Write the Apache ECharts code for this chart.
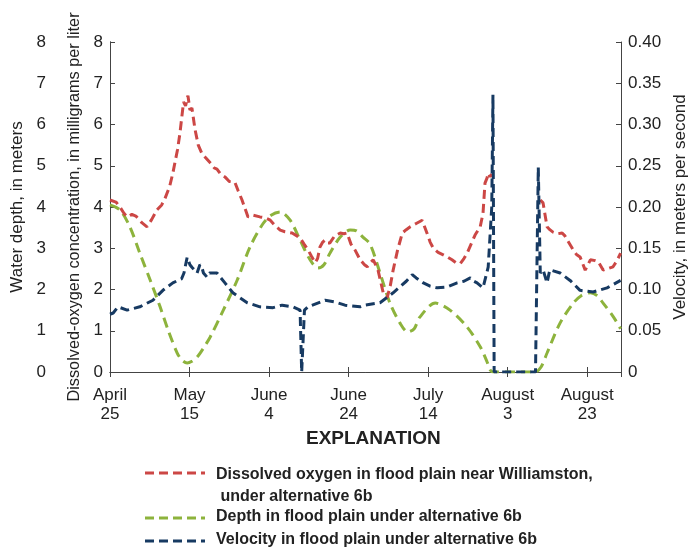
<!DOCTYPE html>
<html>
<head>
<meta charset="utf-8">
<script src="https://cdn.jsdelivr.net/npm/echarts@6/dist/echarts.min.js"></script>
<style>
html,body{margin:0;padding:0;background:#fff;}
#chart{width:697px;height:554px;}
</style>
</head>
<body>
<div id="chart"></div>
<script>
// Days since April 25
const tickMonths = ['April','May','June','June','July','August','August'];
const tickDays = ['25','15','4','24','14','3','23'];
const velTickLabels = ['0','0.05','0.10','0.15','0.20','0.25','0.30','0.35','0.40'];

// Dissolved oxygen (mg/L)
const doDays = [0,1.5,2.5,3.5,4.3,5.5,6.5,8,9.3,10.5,11.8,13,13.8,15,15.8,17,17.6,18.2,18.5,19,19.6,20.1,20.6,21.4,22.2,23.1,24,25.2,26.2,26.9,27.8,28.9,30,31.4,32.2,33.2,34.7,36,37.7,39,40.3,41.5,42.8,44,45.8,47,47.8,48.8,49.8,50.7,51.6,52.2,52.8,53.5,54.1,54.7,55.3,56.5,57.9,58.8,59.6,60.6,61.6,62.9,64,64.7,65.5,66.2,66.8,67.4,68.7,69.7,70.5,71.2,72.3,73.5,74.5,75.5,77,78.5,79.7,80.5,81.3,82.5,83.8,85,86,87,88.1,89,89.8,90.8,91.8,93.1,93.8,94.3,94.8,95.1,95.6,96,
  96.5,
  108.2,108.9,109.9,110.6,111.4,112.5,113.7,114.4,115,116.5,117.3,118.2,119.5,120.2,120.8,122,122.8,124,125,126.5,127.5,128.4];
const doValues = [4.17,4.12,4.0,3.85,3.76,3.82,3.78,3.62,3.52,3.7,3.93,4.05,4.2,4.5,4.82,5.4,5.8,6.3,6.55,6.45,6.7,6.35,6.4,5.87,5.5,5.3,5.2,5.07,4.95,4.92,4.8,4.73,4.62,4.6,4.4,4.17,3.76,3.8,3.76,3.74,3.68,3.55,3.44,3.4,3.37,3.3,3.25,3.1,2.96,2.8,2.65,2.75,3.03,3.15,3.2,3.13,3.13,3.3,3.37,3.35,3.37,3.1,2.96,2.72,2.6,2.55,2.65,2.72,2.6,2.47,1.92,1.8,2.1,2.47,2.95,3.37,3.45,3.52,3.6,3.68,3.37,3.15,3.0,2.9,2.84,2.78,2.72,2.65,2.63,2.75,2.88,3.1,3.32,3.52,3.85,4.58,4.7,4.82,4.73,4.8,
  null,
  4.17,4.1,3.52,3.45,3.39,3.35,3.37,3.3,3.2,2.96,2.85,2.79,2.47,2.6,2.72,2.7,2.67,2.47,2.5,2.55,2.7,2.88];

// Water depth (m)
const depthDays = [0,2.5,5,7.5,10.1,12.6,14.6,16.9,18.2,19.4,20.6,21.9,23.5,25.2,28.5,32,35.2,38.5,40.5,42.8,45.3,47.8,50.3,52.3,53.8,55.3,57.9,60.4,62,63.6,65.4,67.9,70.4,72.9,74.9,76.5,77.9,81.8,85.5,89.8,93.1,94.8,95.6,96.4,100,104,106.9,108.4,109.9,113.2,116.5,118.5,120.8,122.5,124,126.5,128.4];
const depthValues = [4.05,3.93,3.52,2.88,2.23,1.58,1.02,0.46,0.28,0.22,0.26,0.36,0.58,0.85,1.5,2.23,3.03,3.6,3.8,3.88,3.68,3.2,2.72,2.52,2.6,2.88,3.27,3.44,3.42,3.27,3.1,2.4,1.67,1.19,0.97,1.05,1.33,1.67,1.5,1.09,0.61,0.25,0.05,0,0,0,0,0.12,0.46,1.19,1.67,1.85,1.92,1.85,1.67,1.35,1.05];

// Velocity (m/s)
const velDays = [0,0.8,2,4.3,7.5,10.8,13.3,15.8,17.1,18,18.6,19.4,20.1,20.6,21.9,22.6,23.1,23.5,24.4,25,26.9,28.9,30.9,34.5,37.7,41,43.3,46,47.8,48.2,48.5,48.9,49.8,54.1,56.5,59.1,62.9,64,67.9,71.2,74.5,76,77,78.8,80.5,82.3,84.8,87.3,89,90.6,91.5,92.3,93.8,95.1,96,96.3,96.6,100,104,107,107.7,108.2,108.9,109.9,110.6,113.2,115.7,118.2,121.5,125,128.4];
const velValues = [0.070,0.0715,0.079,0.075,0.079,0.087,0.099,0.108,0.111,0.113,0.12,0.139,0.13,0.127,0.12,0.13,0.127,0.12,0.115,0.12,0.12,0.108,0.096,0.084,0.079,0.078,0.081,0.079,0.075,0.0,0.0,0.075,0.079,0.087,0.085,0.081,0.079,0.081,0.084,0.096,0.11,0.118,0.114,0.108,0.104,0.102,0.103,0.108,0.11,0.114,0.11,0.108,0.102,0.127,0.2,0.336,0,0,0,0,0.248,0.12,0.124,0.108,0.124,0.12,0.111,0.099,0.097,0.102,0.111];

const legendLabels = ['Dissolved oxygen in flood plain near Williamston,\n under alternative 6b','Depth in flood plain under alternative 6b','Velocity in flood plain under alternative 6b'];

const FONT = "'Liberation Sans Narrow','Arial Narrow','Liberation Sans',sans-serif";
const RED = '#cc4745', GREEN = '#8db33c', BLUE = '#173a62';
const pair = (xs, ys) => xs.map((x, i) => [x, ys[i]]);

const chart = echarts.init(document.getElementById('chart'), null, {renderer: 'canvas'});
const axisCol = '#444';
const lbl = {fontFamily: FONT, fontSize: 17, color: '#222'};
const nameStyle = {fontFamily: FONT, fontSize: 17, color: '#222'};

const option = {
  animation: false,
  textStyle: {fontFamily: FONT},
  grid: {left: 110, right: 76, top: 42, bottom: 182, containLabel: false, outerBoundsMode: 'none'},
  xAxis: [{
    type: 'value', min: 0, max: 128.5, interval: 20, position: 'bottom',
    axisLine: {show: true, lineStyle: {color: axisCol, width: 1}},
    axisTick: {show: true, inside: true, length: 5, lineStyle: {color: axisCol}},
    splitLine: {show: false},
    axisLabel: Object.assign({}, lbl, {margin: 14, lineHeight: 19, showMaxLabel: false,
      formatter: v => { const i = Math.round(v / 20); if (Math.abs(v - i * 20) > 0.01 || i >= tickMonths.length) return ''; return tickMonths[i] + '\n' + tickDays[i]; }})
  }, {
    type: 'value', min: 0, max: 128.5, interval: 20, position: 'top',
    axisLine: {show: true, lineStyle: {color: axisCol, width: 1}},
    axisTick: {show: true, inside: true, length: 5, lineStyle: {color: axisCol}},
    splitLine: {show: false}, axisLabel: {show: false}
  }],
  yAxis: [{
    type: 'value', min: 0, max: 8, interval: 1, position: 'left',
    name: 'Dissolved-oxygen concentration, in milligrams per liter',
    nameLocation: 'middle', nameRotate: 90, nameGap: 19,
    nameTextStyle: Object.assign({}, nameStyle, {fontSize: 16.3}),
    axisLine: {show: true, lineStyle: {color: axisCol, width: 1}},
    axisTick: {show: true, inside: true, length: 5, lineStyle: {color: axisCol}},
    splitLine: {show: false},
    axisLabel: Object.assign({}, lbl, {margin: 7})
  }, {
    type: 'value', min: 0, max: 8, interval: 1, position: 'left', offset: 57,
    name: 'Water depth, in meters',
    nameLocation: 'middle', nameRotate: 90, nameGap: 19, nameTextStyle: nameStyle,
    axisLine: {show: true, lineStyle: {color: axisCol, width: 1}},
    axisTick: {show: true, inside: true, length: 5, lineStyle: {color: axisCol}},
    splitLine: {show: false},
    axisLabel: Object.assign({}, lbl, {margin: 7})
  }, {
    type: 'value', min: 0, max: 0.4, interval: 0.05, position: 'right',
    name: 'Velocity, in meters per second',
    nameLocation: 'middle', nameRotate: 90, nameGap: 44, nameTextStyle: nameStyle,
    axisLine: {show: true, lineStyle: {color: axisCol, width: 1}},
    axisTick: {show: true, inside: true, length: 5, lineStyle: {color: axisCol}},
    splitLine: {show: false},
    axisLabel: Object.assign({}, lbl, {margin: 7, formatter: v => velTickLabels[Math.round(v / 0.05)]})
  }],
  series: [{
    name: 'Depth', type: 'line', xAxisIndex: 0, yAxisIndex: 1, data: pair(depthDays, depthValues),
    showSymbol: false, smooth: 0.3, z: 2,
    lineStyle: {color: GREEN, width: 3, type: [10, 6]}
  }, {
    name: 'DO', type: 'line', xAxisIndex: 0, yAxisIndex: 0, data: pair(doDays, doValues),
    showSymbol: false, connectNulls: false, z: 3,
    lineStyle: {color: RED, width: 3, type: [9, 5]}
  }, {
    name: 'Velocity', type: 'line', xAxisIndex: 0, yAxisIndex: 2, data: pair(velDays, velValues),
    showSymbol: false, z: 4,
    lineStyle: {color: BLUE, width: 3, type: [9, 5]}
  }],
  graphic: [
    {type: 'text', left: 306, top: 429, style: {text: 'EXPLANATION', font: "bold 19px " + FONT, fill: '#222'}},
    {type: 'line', shape: {x1: 145, y1: 473, x2: 205, y2: 473}, style: {stroke: RED, lineWidth: 3, lineDash: [9, 5]}},
    {type: 'line', shape: {x1: 145, y1: 518, x2: 205, y2: 518}, style: {stroke: GREEN, lineWidth: 3, lineDash: [9, 5]}},
    {type: 'line', shape: {x1: 145, y1: 541, x2: 205, y2: 541}, style: {stroke: BLUE, lineWidth: 3, lineDash: [9, 5]}},
    {type: 'text', x: 216, y: 464, style: {text: legendLabels[0], font: "bold 16px " + FONT, fill: '#222', lineHeight: 22}},
    {type: 'text', x: 216, y: 509, style: {text: legendLabels[1], font: "bold 16px " + FONT, fill: '#222'}},
    {type: 'text', x: 216, y: 532, style: {text: legendLabels[2], font: "bold 16px " + FONT, fill: '#222'}}
  ]
};
chart.setOption(option);
</script>
</body>
</html>
